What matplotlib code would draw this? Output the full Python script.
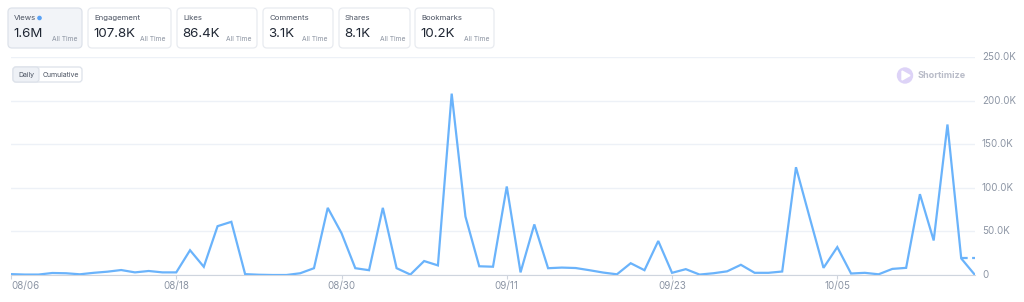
import numpy as np
import matplotlib
matplotlib.use("Agg")
import matplotlib.pyplot as plt
from matplotlib.patches import FancyBboxPatch, Circle, Polygon
from matplotlib import ticker

# daily views, 08/06 .. 10/15
dates = ["08/06", "08/07", "08/08", "08/09", "08/10", "08/11", "08/12", "08/13", "08/14", "08/15",
         "08/16", "08/17", "08/18", "08/19", "08/20", "08/21", "08/22", "08/23", "08/24", "08/25",
         "08/26", "08/27", "08/28", "08/29", "08/30", "08/31", "09/01", "09/02", "09/03", "09/04",
         "09/05", "09/06", "09/07", "09/08", "09/09", "09/10", "09/11", "09/12", "09/13", "09/14",
         "09/15", "09/16", "09/17", "09/18", "09/19", "09/20", "09/21", "09/22", "09/23", "09/24",
         "09/25", "09/26", "09/27", "09/28", "09/29", "09/30", "10/01", "10/02", "10/03", "10/04",
         "10/05", "10/06", "10/07", "10/08", "10/09", "10/10", "10/11", "10/12", "10/13", "10/14",
         "10/15"]
views = [1000, 500, 500, 2300, 2000, 800, 2500, 3800, 5700, 3000,
         4600, 3000, 3000, 28400, 9400, 56000, 61000, 1000, 300, 0,
         0, 2000, 7800, 77000, 48000, 7800, 5500, 77000, 7800, 500,
         16000, 11000, 208000, 67000, 10000, 9500, 101500, 3000, 58000, 7800,
         8500, 8000, 5500, 2800, 800, 13500, 5500, 39000, 2500, 6700,
         500, 2000, 4200, 11700, 2500, 2500, 4000, 123600, 65600, 8200,
         32000, 1700, 2500, 800, 7000, 8200, 92700, 39600, 172600, 19000,
         0]
tick_labels = ["08/06", "08/18", "08/30", "09/11", "09/23", "10/05"]
y_ticks = [0, 50000, 100000, 150000, 200000, 250000]

card_titles = ["Views", "Engagement", "Likes", "Comments", "Shares", "Bookmarks"]
card_values = ["1.6M", "107.8K", "86.4K", "3.1K", "8.1K", "10.2K"]
card_x = [(8, 82), (88, 171), (177, 257), (263, 333), (339, 410), (415, 494)]

LINE = "#6ab3fb"
GRID = "#edf1f7"
LABEL = "#8c95a4"

plt.rcParams['font.family'] = ['Inter', 'DejaVu Sans']

fig = plt.figure(figsize=(10.24, 3.02), dpi=100, facecolor="white")

# main chart
ax = fig.add_axes([11 / 1024, 1 - 275 / 302, (975 - 11) / 1024, (275 - 57) / 302])
x = np.arange(len(views))
ax.plot(x, views, color=LINE, lw=1.6, solid_joinstyle="miter", zorder=3)
# partial last day shown dashed
ax.plot([x[-2], x[-1]], [views[-2], views[-2]], color=LINE, lw=1.6, ls=(0, (3, 2)), zorder=3)
ax.set_xlim(0, len(views) - 1)
ax.set_ylim(0, 250000)
ax.set_yticks(y_ticks)
ax.yaxis.tick_right()
ax.yaxis.set_major_formatter(ticker.FuncFormatter(
    lambda v, p: "0" if v == 0 else "{:.1f}K".format(v / 1000)))
ax.set_xticks([dates.index(d) for d in tick_labels])
ax.set_xticklabels(tick_labels)
ax.get_xticklabels()[0].set_horizontalalignment("left")
ax.grid(axis="y", color=GRID, lw=1.0, zorder=0)
for s in ["top", "right", "left"]:
    ax.spines[s].set_visible(False)
ax.spines["bottom"].set_color("#cfd5de")
ax.tick_params(axis="y", length=0, labelsize=7, labelcolor=LABEL, pad=5)
ax.tick_params(axis="x", length=3, color="#cfd5de", labelsize=7, labelcolor=LABEL, pad=1.5)
for lab in ax.get_yticklabels():
    lab.set_verticalalignment("center")

# overlay in pixel coordinates for the cards and toggles
ov = fig.add_axes([0, 0, 1, 1], facecolor="none")
ov.set_xlim(0, 1024)
ov.set_ylim(302, 0)
ov.axis("off")

for i, (t, v, (x0, x1)) in enumerate(zip(card_titles, card_values, card_x)):
    fc = "#f2f4f8" if i == 0 else "white"
    ec = "#dde2ea" if i == 0 else "#e8ebf0"
    ov.add_patch(FancyBboxPatch((x0, 8), x1 - x0, 40, boxstyle="round,pad=0,rounding_size=4",
                                fc=fc, ec=ec, lw=0.9))
    ov.text(x0 + 6, 18, t, fontsize=5.6, color="#4a5261", va="center", ha="left")
    ov.text(x0 + 5, 34, v, fontsize=9.6, color="#1f2633", va="center", ha="left")
    ov.text(x1 - 5, 39, "All Time", fontsize=4.8, color="#8a92a0", va="center", ha="right")
ov.add_patch(Circle((39.5, 18), 1.6, color="#5aa2f5"))

# daily / cumulative toggle
ov.add_patch(FancyBboxPatch((13, 67), 69, 15, boxstyle="round,pad=0,rounding_size=3",
                            fc="white", ec="#dde2ea", lw=0.9))
ov.add_patch(FancyBboxPatch((13, 67), 26, 15, boxstyle="round,pad=0,rounding_size=3",
                            fc="#eef1f6", ec="#dde2ea", lw=0.9))
ov.text(26, 75, "Daily", fontsize=5, color="#4a5261", va="center", ha="center")
ov.text(61, 75, "Cumulative", fontsize=5, color="#4a5261", va="center", ha="center")

# watermark
ov.add_patch(Circle((905, 75.5), 7.5, color="#ddd3f7"))
ov.add_patch(Polygon([[902, 71], [902, 80], [910, 75.5]], closed=True, color="white"))
ov.text(918, 75.5, "Shortimize", fontsize=6.5, color="#b9bcc8", fontweight="bold",
        va="center", ha="left")

fig.savefig("out.png", dpi=100, facecolor="white")
